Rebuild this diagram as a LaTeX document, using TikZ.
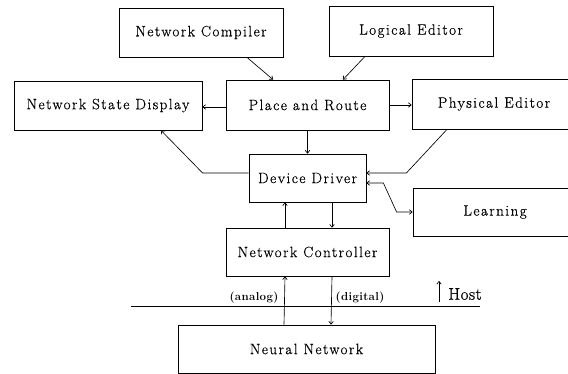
\documentclass[tikz,border=0pt]{standalone}
\usepackage{fontspec}
\newfontfamily\boxfont{Latin Modern Roman}[LetterSpace=10,FakeBold=0.6]
\newfontfamily\labfont{Latin Modern Roman}[LetterSpace=3]
\newfontfamily\hostfont{Latin Modern Roman}[LetterSpace=3,FakeBold=0.8]
\usetikzlibrary{arrows.meta,calc}
\begin{document}
\begin{tikzpicture}[x=1pt,y=-1pt,
  blk/.style={draw,line width=0.8pt,inner sep=0pt,font=\boxfont\fontsize{15}{18}\selectfont},
  conn/.style={line width=0.65pt,-{To[length=3.5pt,width=5pt]}},
  biconn/.style={line width=0.65pt,{To[length=3.5pt,width=5pt]}-{To[length=3.5pt,width=5pt]}},
  lab/.style={inner sep=0pt,font=\labfont\bfseries\fontsize{11.5}{13}\selectfont}]
\useasboundingbox (0,0) rectangle (568,374);
\clip (0,0) rectangle (568,374);
\node[blk,minimum width=164pt,minimum height=49pt] (NC) at (201,32.5) {Network Compiler};
\node[blk,minimum width=164pt,minimum height=50pt] (LE) at (411,31) {Logical Editor};
\node[blk,minimum width=188pt,minimum height=49pt] (NSD) at (108,105.5) {Network State Display};
\node[blk,minimum width=163pt,minimum height=50pt] (PR) at (307.5,105) {Place and Route};
\node[blk,minimum width=164pt,minimum height=50pt] (PE) at (494,104) {Physical Editor};
\node[blk,minimum width=117pt,minimum height=48pt] (DD) at (307.5,178) {Device Driver};
\node[blk,minimum width=164pt,minimum height=48pt] (LN) at (495,212) {Learning};
\node[blk,minimum width=163pt,minimum height=48pt] (NCt) at (307.5,252) {Network Controller};
\node[blk,minimum width=257pt,minimum height=48pt] (NN) at (306.5,349) {Neural Network};
% host line
\coordinate (HL) at (131,306);
\coordinate (HR) at (480,306);
\draw[line width=0.8pt] (HL) -- (HR);
\node[lab] (an) at (254,298) {(analog)};
\node[lab] (dg) at (360,298) {(digital)};
\node[inner sep=0pt,font=\hostfont\fontsize{17}{19}\selectfont] (host) at (465,294) {Host};
\coordinate (ha) at (439,302);
\coordinate (hb) at (439,281);
\draw[conn] (ha) -- (hb);
% connectors
\draw[conn] ([xshift=46pt]NC.south) -- ([xshift=-34.5pt]PR.north);
\draw[conn] ([xshift=-46pt]LE.south) -- ([xshift=35.5pt]PR.north);
\draw[conn] ([yshift=-2pt]PR.west) -- ([yshift=-2pt]PR.west -| NSD.east);
\draw[conn] (PR.east) -- (PR.east -| PE.west);
\draw[conn] (PR.south) -- (DD.north);
\draw[conn] ([yshift=5pt]DD.west) -- ++(-46,0) -- ([xshift=53pt]NSD.south);
\draw[conn] ([xshift=-47pt]PE.south) -- ([xshift=40pt,yshift=5pt]DD.east) -- ([yshift=5pt]DD.east);
\draw[biconn] ([yshift=-5pt]DD.east) -- ++(17,0) -- ([xshift=-16pt]LN.west) -- (LN.west);
\draw[conn] ([xshift=-22.5pt]NCt.north) -- ([xshift=-22.5pt]DD.south);
\draw[conn] ([xshift=24.5pt]DD.south) -- ([xshift=24.5pt]NCt.north);
\draw[conn] ([xshift=-22.5pt]NN.north) -- ([xshift=-22.5pt]NCt.south);
\draw[conn] ([xshift=24.5pt]NCt.south) -- ([xshift=24.5pt]NN.north);
\end{tikzpicture}
\end{document}
